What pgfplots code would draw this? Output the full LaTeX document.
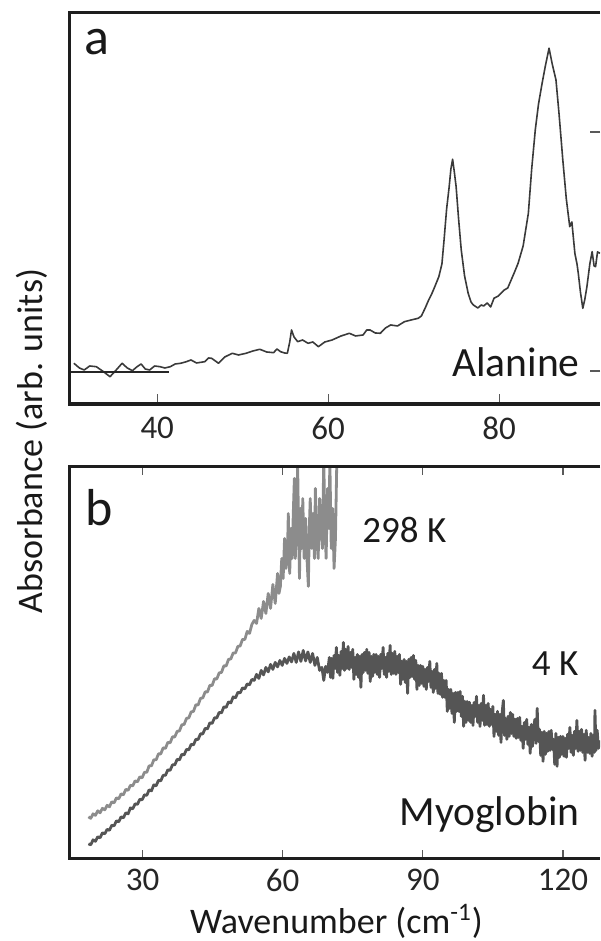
\documentclass[border=0pt]{standalone}
\usepackage{fontspec}
\setmainfont{Carlito}
\usepackage{pgfplots}
\pgfplotsset{compat=1.18}

\definecolor{spine}{HTML}{1E1E1E}
\definecolor{lineA}{HTML}{3A3A3A}
\definecolor{warm}{HTML}{8C8C8C}
\definecolor{cold}{HTML}{555555}

\pgfplotsset{common/.style={
  scale only axis, width=265.2pt, height=195.8pt,
  anchor=south west,
  axis line style={draw=none},
  tick align=inside,
  tick style={color=black!65, line width=0.7pt},
  ticklabel style={font=\fontsize{16.5}{19}\selectfont, text=black!85},
  /pgf/number format/assume math mode=true,
  ymin=0, clip=true,
  after end axis/.code={
    \draw[spine, line width=1.6pt, line join=miter]
      (rel axis cs:1,1) -- (rel axis cs:0,1) -- (rel axis cs:0,0) -- (rel axis cs:1,0);
  },
}}

\begin{document}
\begin{tikzpicture}
\useasboundingbox (0,0) rectangle (300pt,470.5pt);

% ---------------- panel a ----------------
\begin{axis}[common, at={(34.8pt,268.5pt)},
  xmin=29.75, xmax=91.79, ymax=391.5,
  xtick={40,60,80}, xtick pos=bottom, major tick length=5pt,
  ytick={33,272}, ytick pos=right, yticklabels={},
  xticklabel style={yshift=-3pt}]
\addplot[lineA, line width=0.8pt, line join=round] coordinates {
(30.25,40.7)(30.9,36)(31.46,34)(32.1,38)(32.87,37.3)(33.6,33)(34.48,27.3)(35.2,34)
(35.89,40.7)(36.5,36)(37.10,33.3)(37.6,37)(38.11,40)(38.6,35)(39.11,34)(39.7,38)
(40.32,37.3)(40.9,36)(41.53,37.3)(42.1,40)(42.74,40.7)(43.3,42)(43.95,44)(44.6,41)
(45.56,42.3)(46.0,46)(46.36,45.7)(46.8,43)(47.17,40.7)(47.9,47)(48.78,50.7)(49.5,49)
(50.39,50.7)(51.2,53)(52.00,54.7)(52.8,52)(53.61,51.3)(54.0,55)(54.42,52.3)(54.9,51)
(55.22,50.7)(55.5,62)(55.71,74)(56.0,67)(56.43,62.3)(57.0,64)(57.64,60.7)(58.2,62)
(58.85,57.3)(59.6,62)(60.46,64)(61.5,68)(62.47,70.7)(63.2,68)(64.08,69)(64.5,74)
(64.89,74)(65.5,71)(66.10,70.7)(66.7,76)(67.31,79)(68.1,78)(68.92,82.3)(69.7,84)
(70.53,85.7)(70.9,88)(71.33,95.7)(71.7,103)(72.14,110.7)(72.5,118)(72.94,127.3)
(73.3,140)(73.55,164)(73.85,195)(74.15,217.3)(74.35,235)(74.55,244.7)(74.75,232)
(74.96,217.3)(75.25,185)(75.56,154)(75.95,128)(76.37,110.7)(76.7,102)(76.97,99)
(77.5,96)(77.9,99)(78.18,98)(78.6,101)(79.0,97)(79.39,105.7)(79.9,108)(80.60,114)
(81.0,116)(81.40,124)(81.8,132)(82.21,140.7)(82.8,158)(83.41,190.7)(83.8,235)
(84.22,274)(84.6,300)(85.02,320.7)(85.4,338)(85.83,355.7)(86.2,340)(86.64,324)
(87.0,290)(87.44,244)(87.85,205)(88.25,177.3)(88.5,182)(88.85,150.7)(89.1,140)
(89.25,130.7)(89.5,112)(89.78,95.7)(90.0,104)(90.26,117.3)(90.6,140)(90.87,152.3)
(91.1,138)(91.27,137.3)(91.5,152)(91.79,150.7)
};
\addplot[black!85, line width=0.9pt] coordinates {(29.75,32.3)(41.4,32.3)};
\node[anchor=base, font=\fontsize{26}{30}\selectfont, text=black!90] at (axis cs:32.92,349) {a};
\node[anchor=base, font=\fontsize{20.8}{24}\selectfont, text=black!90] at (axis cs:81.96,27) {Alanine};
\end{axis}

% ---------------- panel b ----------------
\begin{axis}[common, at={(34.8pt,41.35pt)},
  xmin=14.37, xmax=127.95, ymax=391.8,
  xtick={30,60,90,120}, xtick pos=both, major tick length=4pt,
  ytick=\empty,
  xticklabel style={yshift=-1.7pt}]
% 298 K
\addplot[warm, line width=1.4pt, line join=round] coordinates {
(18.4,41.5)(18.9,40)(19.4,44.5)(19.9,43)(20.4,47.5)(20.9,45.5)(21.4,50)(21.9,48.5)
(22.4,53)(22.9,51.5)(23.4,56.5)(23.9,55.5)(24.4,60.5)(24.9,59.5)(25.4,64.5)(25.9,63.5)
(26.4,69)(26.9,68)(27.4,73)(27.9,72.5)(28.4,77.5)(28.9,76.5)(29.4,81.5)(29.9,80.5)
(30.4,86)(30.9,86)(31.4,92.5)(31.9,92.5)(32.4,98.5)(32.9,98.5)(33.4,104.5)(33.9,104.5)
(34.4,110.5)(34.9,110)(35.4,116)(35.9,115.5)(36.4,121.5)(36.9,121.5)(37.4,127)(37.9,127.5)
(38.4,133.5)(38.9,134)(39.4,140)(39.9,140.5)(40.4,146.5)(40.9,147)(41.4,153.5)(41.9,153.5)
(42.4,160)(42.9,160.5)(43.4,166.5)(43.9,166.5)(44.4,173)(44.9,173)(45.4,179.5)(45.9,179.5)
(46.4,185.5)(46.9,186)(47.4,192.5)(47.9,192.5)(48.4,199)(48.9,199.5)(49.4,205.5)(49.9,205.5)
(50.4,212)(50.9,212.5)(51.4,219)(51.9,219)(52.4,227)(52.9,225)(53.4,234)(53.9,238)
(54.4,235)(54.9,250)(55.4,240)
(55.9,257)(56.4,245)(56.9,265)(57.4,250)(57.9,274)(58.4,255)(58.9,285)(59.2,265)
(59.5,272)(59.8,300)(60.1,280)(60.4,320)(60.7,290)(61.0,300)(61.2,345)(61.5,285)
(61.8,330)(62.0,300)(62.3,350)(62.5,380)(62.7,300)(63.0,340)(63.2,395)(63.4,330)
(63.6,280)(63.8,350)(64.1,310)(64.3,360)(64.6,300)(64.9,340)(65.2,300)(65.5,272)
(65.7,330)(65.9,360)(66.2,310)(66.5,345)(66.8,300)(67.0,370)(67.3,320)(67.6,300)
(67.9,360)(68.2,330)(68.5,310)(68.8,400)(69.0,340)(69.3,300)(69.6,370)(69.9,330)
(70.1,398)(70.4,310)(70.7,350)(71.0,290)(71.3,320)(71.6,400)
};
% 4 K
\addplot[cold, line width=1.4pt, line join=round] coordinates {
(18.4,14.5)(18.9,13.5)(19.4,18.5)(19.9,17)(20.4,21.5)(20.9,20.5)(21.4,25.5)(21.9,24.5)
(22.4,29)(22.9,28)(23.4,33)(23.9,32.5)(24.4,37.5)(24.9,36.5)(25.4,41.5)(25.9,40.5)
(26.4,45.5)(26.9,44.5)(27.4,50.5)(27.9,49.5)(28.4,54.5)(28.9,54)(29.4,59)(29.9,58.5)
(30.4,63.5)(30.9,63)(31.4,68.5)(31.9,67.5)(32.4,73.5)(32.9,72.5)(33.4,78)(33.9,77.5)
(34.4,83)(34.9,83)(35.4,88.5)(35.9,88)(36.4,93.5)(36.9,93.5)(37.4,99)(37.9,98.5)
(38.4,104)(38.9,103.5)(39.4,109)(39.9,108.5)(40.4,114)(40.9,113.5)(41.4,119)(41.9,119)
(42.4,124.5)(42.9,124.5)(43.4,130)(43.9,129.5)(44.4,135.5)(44.9,135)(45.4,140.5)(45.9,140.5)
(46.4,146)(46.9,145.5)(47.4,151.5)(47.9,151)(48.4,156.5)(48.9,155.5)(49.4,161.5)(49.9,160.5)
(50.4,166)(50.9,165.5)(51.4,170.5)(51.9,169.5)(52.4,174.5)(52.9,173.5)(53.4,179)(53.9,178)
(54.4,184)(54.9,180)(55.4,188)(55.9,183.5)(56.4,191)(56.9,186.5)(57.4,194)(57.9,189)
(58.4,196)(58.9,191.5)(59.4,198)(59.9,193)(60.4,200)(60.9,195)(61.4,201.5)(61.9,196.5)
(62.4,205)(62.9,196)(63.4,206.5)(63.9,197)(64.4,208)(64.9,197.5)(65.4,206.5)(65.9,196)
(66.4,205)(66.9,193)(67.4,201)(67.9,188)(68.4,191)(68.8,178)(69.2,192)(69.6,186)
(70.00,201)(70.25,181)(70.50,200)(70.75,180)(71.00,203)(71.25,190)(71.50,211)(71.75,186)
(72.00,203)(72.25,183)(72.50,207)(72.75,190)(73.00,216)(73.25,188)(73.50,209)(73.75,190)
(74.00,212)(74.25,189)(74.50,206)(74.75,191)(75.00,209)(75.25,179)(75.50,201)(75.75,184)
(76.00,204)(76.25,181)(76.50,202)(76.75,171)(77.00,204)(77.25,186)(77.50,206)(77.75,188)
(78.00,209)(78.25,185)(78.50,206)(78.75,177)(79.00,202)(79.25,182)(79.50,204)(79.75,186)
(80.00,204)(80.25,184)(80.50,202)(80.75,181)(81.00,204)(81.25,190)(81.50,211)(81.75,184)
(82.00,201)(82.25,181)(82.50,205)(82.75,187)(83.00,213)(83.25,184)(83.50,205)(83.75,185)
(84.00,207)(84.25,184)(84.50,202)(84.75,186)(85.00,204)(85.25,174)(85.50,197)(85.75,179)
(86.00,199)(86.25,176)(86.50,197)(86.75,165)(87.00,199)(87.25,181)(87.50,201)(87.75,182)
(88.00,203)(88.25,179)(88.50,198)(88.75,169)(89.00,193)(89.25,173)(89.50,193)(89.75,175)
(90.00,192)(90.25,172)(90.50,189)(90.75,169)(91.00,191)(91.25,177)(91.50,197)(91.75,171)
(92.00,187)(92.25,166)(92.50,189)(92.75,170)(93.00,195)(93.25,165)(93.50,185)(93.75,164)
(94.00,185)(94.25,161)(94.50,178)(94.75,161)(95.00,178)(95.25,147)(95.50,169)(95.75,150)
(96.00,169)(96.25,145)(96.50,165)(96.75,136)(97.00,166)(97.25,147)(97.50,166)(97.75,147)
(98.00,167)(98.25,142)(98.50,162)(98.75,132)(99.00,157)(99.25,136)(99.50,157)(99.75,138)
(100.00,156)(100.25,136)(100.50,153)(100.75,133)(101.00,156)(101.25,142)(101.50,162)(101.75,136)
(102.00,153)(102.25,132)(102.50,155)(102.75,138)(103.00,163)(103.25,133)(103.50,153)(103.75,134)
(104.00,155)(104.25,132)(104.50,149)(104.75,134)(105.00,152)(105.25,122)(105.50,144)(105.75,127)
(106.00,147)(106.25,123)(106.50,144)(106.75,116)(107.00,146)(107.25,158)(107.50,123)(107.75,140)
(108.00,119)(108.25,142)(108.50,122)(108.75,146)(109.00,125)(109.25,144)(109.50,122)(109.75,139)
(110.00,120)(110.25,140)(110.50,121)(110.75,141)(111.00,118)(111.25,132)(111.50,110)(111.75,136)
(112.00,119)(112.25,139)(112.50,114)(112.75,131)(113.00,105)(113.25,134)(113.50,112)(113.75,131)
(114.00,139)(114.25,115)(114.50,150)(114.75,117)(115.00,129)(115.25,103)(115.50,126)(115.75,97)
(116.00,127)(116.25,104)(116.50,125)(116.75,107)(117.00,127)(117.25,108)(117.50,128)(117.75,109)
(118.00,119)(118.25,94)(118.50,125)(118.75,92)(119.00,121)(119.25,101)(119.50,122)(119.75,104)
(120.00,122)(120.25,102)(120.50,120)(120.75,101)(121.00,124)(121.25,110)(121.50,131)(121.75,106)
(122.00,123)(122.25,103)(122.50,127)(122.75,110)(123.00,138)(123.25,107)(123.50,127)(123.75,108)
(124.00,129)(124.25,106)(124.50,124)(124.75,98)(125.00,128)(125.25,106)(125.50,121)(125.75,105)
(126.00,125)(126.25,102)(126.50,123)(126.75,106)(126.87,148)(127.10,108)(127.35,128)(127.60,110)
(127.95,118)
};
\node[anchor=base, font=\fontsize{26}{30}\selectfont, text=black!90] at (axis cs:20.62,333.3) {b};
\node[anchor=base west, inner sep=0pt, font=\fontsize{18.5}{22}\selectfont, text=black!90] at (axis cs:76.98,316.3) {298 K};
\node[anchor=base west, inner sep=0pt, font=\fontsize{18.5}{22}\selectfont, text=black!90] at (axis cs:113.3,183.3) {4 K};
\node[anchor=base, font=\fontsize{20.8}{24}\selectfont, text=black!90] at (axis cs:104.3,33.3) {Myoglobin};
\end{axis}

% shared axis labels
\node[anchor=base, inner sep=0pt, font=\fontsize{18}{21}\selectfont, text=black!90] at (168.2pt,4pt) {Wavenumber (cm\textsuperscript{-1})};
\node[rotate=90, font=\fontsize{18}{21}\selectfont, text=black!90] at (15.85pt,250pt) {Absorbance (arb. units)};
\end{tikzpicture}
\end{document}
